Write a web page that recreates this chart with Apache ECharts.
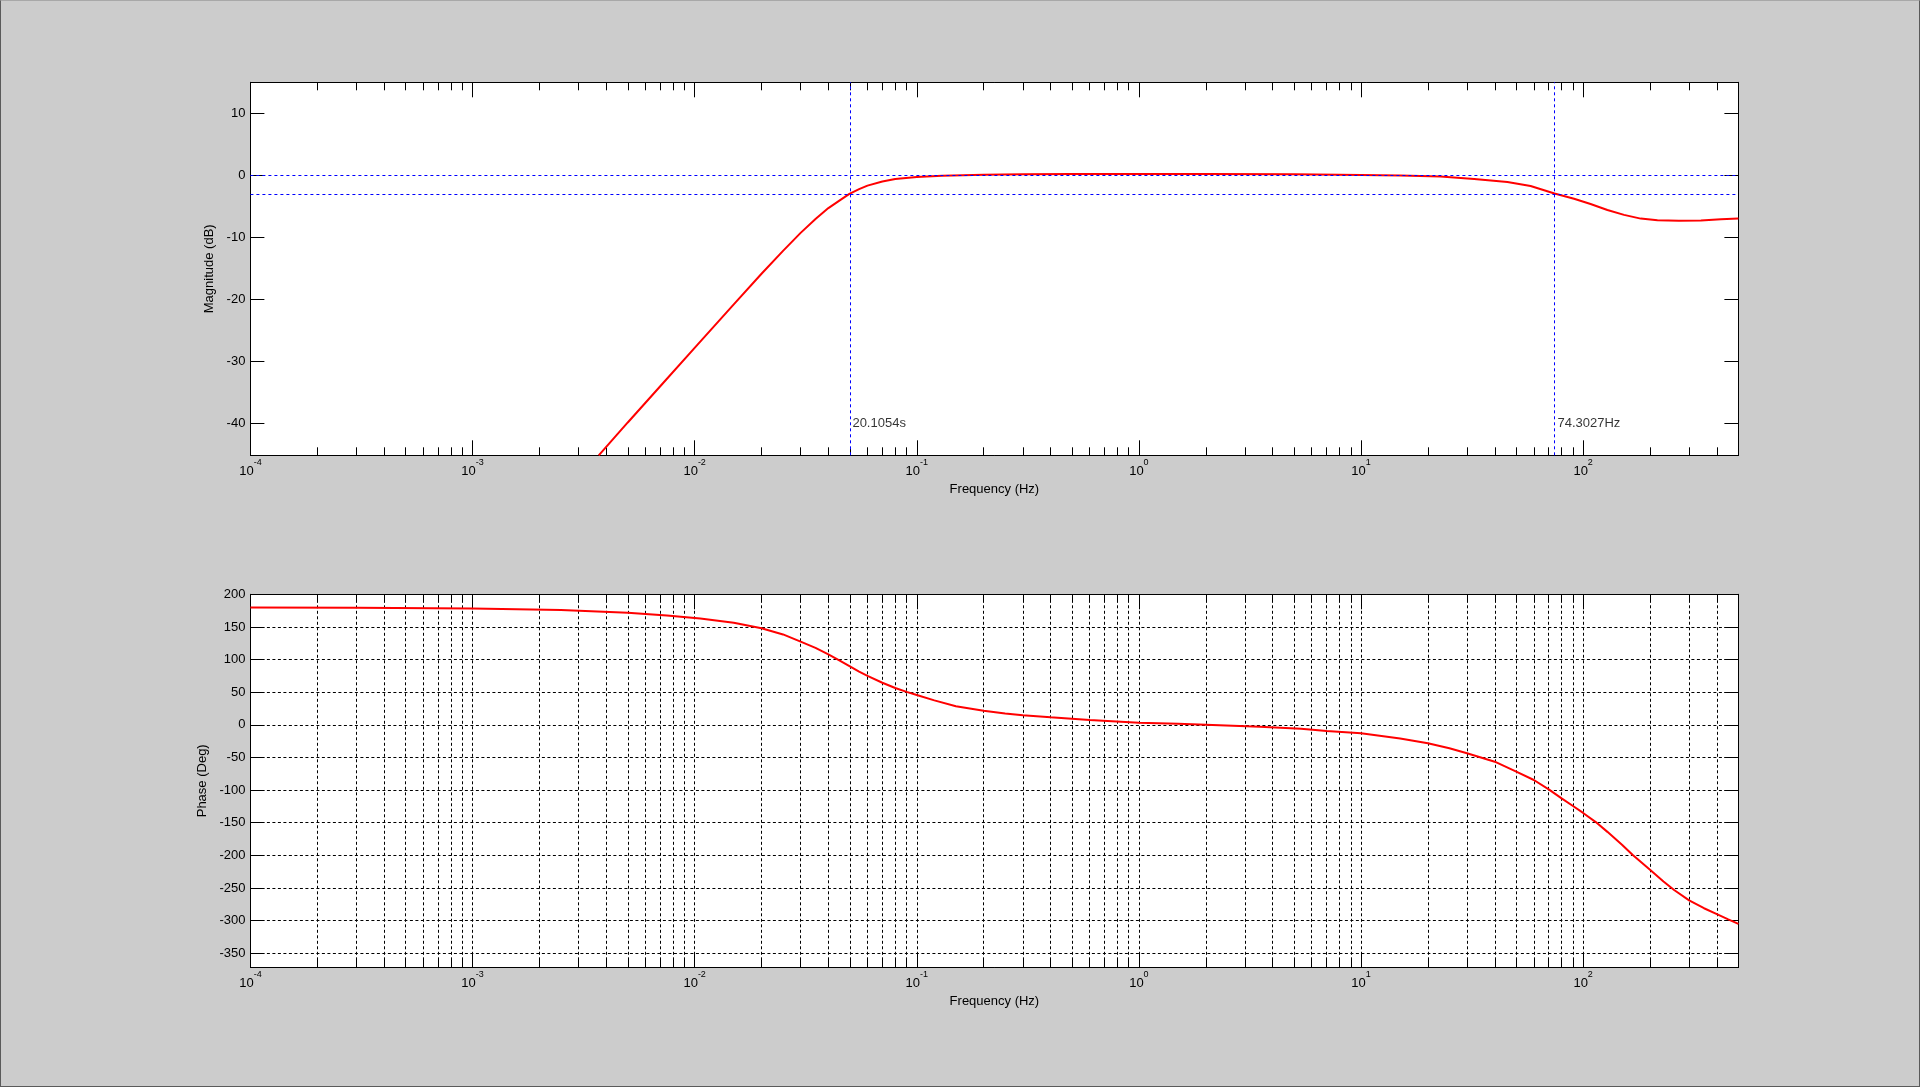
<!DOCTYPE html>
<html>
<head>
<meta charset="utf-8">
<title>Bode plot</title>
<script src="https://cdn.jsdelivr.net/npm/echarts@6/dist/echarts.min.js"></script>
<style>
    html, body {
        margin: 0;
        padding: 0;
        width: 100%;
        height: 100%;
        overflow: hidden;
        background: #cccccc;
    }
    #main {
        width: 100%;
        height: 100%;
        box-sizing: border-box;
        border: 1px solid #5a5a5a;
        border-top-color: #a8a8a8;
    }
</style>
</head>
<body>
<div id="main"></div>
<script type="text/javascript">
    // frequency range of both plots (Hz)
    var freqMin = 1e-4;
    var freqMax = 500;

    // magnitude curve
    var magFreq = [0.0037, 0.005, 0.007, 0.01, 0.015, 0.02, 0.025, 0.03, 0.035, 0.04, 0.045, 0.04974,
        0.055, 0.06, 0.07, 0.08, 0.1, 0.13, 0.2, 0.3, 0.5, 1, 2, 5, 10, 15, 22.8, 32.3, 45.6, 58,
        74.3027, 91, 108, 128.6, 152.8, 181.6, 216, 270, 339, 417, 500];
    var magDb = [-45.2, -39.9, -34.05, -27.85, -20.85, -15.9, -12.2, -9.3, -7.05, -5.3, -4.05, -3.0,
        -2.25, -1.68, -1.0, -0.6, -0.28, -0.09, 0.08, 0.15, 0.2, 0.2, 0.2, 0.15, 0.05, -0.05, -0.22, -0.6, -1.08, -1.73,
        -2.95, -3.8, -4.65, -5.6, -6.4, -7.0, -7.28, -7.35, -7.3, -7.1, -7.0];

    // phase curve
    var phaseFreq = [1e-4, 3e-4, 1e-3, 0.0025, 0.005, 0.0075, 0.0106, 0.015, 0.02, 0.025, 0.03, 0.035, 0.04, 0.045, 0.05, 0.055,
        0.06, 0.07, 0.08, 0.09, 0.1, 0.12, 0.15, 0.2, 0.25, 0.3, 0.4, 0.6, 1, 1.5, 2, 3.5, 5.37, 7, 10, 15, 20, 25, 30, 40, 50, 60, 70, 80, 90, 100,
        114, 128.6, 150, 166.8, 200, 230, 256.8, 300, 350, 400, 450, 500];
    var phaseDeg = [179.8, 179.5, 178.4, 175.9, 171.8, 167.5, 163.0, 156.5, 148, 138.5, 127.4, 118, 108, 98.5, 89.5, 81.5,
        75, 64.5, 56.5, 50.5, 45.7, 37.5, 28.5, 21.7, 17.5, 14.6, 11.5, 7.5, 3.3, 1.6, 0.2, -2.8, -5.9, -9.4, -13, -21, -28.3, -36, -43.6, -56.5, -71.8, -84.5, -98.8, -112.6, -124.4, -135,
        -149, -164, -184, -199, -222, -240, -253, -269, -281, -290, -298, -305];

    // axis ticks
    var magTicks = [-40, -30, -20, -10, 0, 10];
    var phaseTicks = [-350, -300, -250, -200, -150, -100, -50, 0, 50, 100, 150, 200];
    var decadeTicks = [1e-4, 1e-3, 1e-2, 1e-1, 1, 10, 100];
    var minorTicks = [];
    for (var d = -4; d <= 2; d++) {
        for (var k = 2; k <= 9; k++) {
            var v = k * Math.pow(10, d);
            if (v <= freqMax) minorTicks.push(v);
        }
    }

    // reference lines and their captions
    var refLevels = [0, -3];
    var cutoffFreqs = [0.04974, 74.3027];
    var cutoffLabels = ['20.1054s', '74.3027Hz'];
    var labelLevel = -40;

    var FONT = '"Liberation Sans", Arial, sans-serif';
    var gridDash = { color: '#000', width: 1, type: [3, 2.5] };

    function xAxisFor(grid, pos, ticks, tickLen, extra) {
        var ax = {
            type: 'log',
            logBase: 10,
            gridIndex: grid,
            position: pos,
            min: freqMin,
            max: freqMax,
            axisLine: { show: true, onZero: false, lineStyle: { color: '#000', width: 1 } },
            axisTick: { show: true, inside: true, length: tickLen, customValues: ticks, lineStyle: { color: '#000', width: 1 } },
            axisLabel: { show: false },
            splitLine: { show: false }
        };
        return Object.assign(ax, extra || {});
    }

    function yAxisFor(grid, pos, min, max, ticks, extra) {
        var ax = {
            type: 'value',
            gridIndex: grid,
            position: pos,
            min: min,
            max: max,
            axisLine: { show: true, onZero: false, lineStyle: { color: '#000', width: 1 } },
            axisTick: { show: true, inside: true, length: 14, customValues: ticks, lineStyle: { color: '#000', width: 1 } },
            axisLabel: { show: false },
            splitLine: { show: false }
        };
        return Object.assign(ax, extra || {});
    }

    function decadeLabels() {
        return {
            show: true,
            customValues: decadeTicks,
            margin: 3,
            color: '#000',
            fontFamily: FONT,
            formatter: function (val) {
                return '{b|10}{e|' + Math.round(Math.log10(val)) + '}';
            },
            rich: {
                b: { fontSize: 13, fontFamily: FONT, color: '#000', lineHeight: 20, verticalAlign: 'bottom' },
                e: { fontSize: 9, fontFamily: FONT, color: '#000', lineHeight: 12, verticalAlign: 'top' }
            }
        };
    }

    function valueLabels(ticks) {
        return { show: true, customValues: ticks, margin: 5, color: '#000', fontSize: 13, fontFamily: FONT };
    }

    var freqName = {
        name: 'Frequency (Hz)',
        nameLocation: 'middle',
        nameGap: 28,
        nameTextStyle: { color: '#000', fontSize: 13, fontFamily: FONT }
    };

    var chart = echarts.init(document.getElementById('main'));

    var option = {
        animation: false,
        backgroundColor: '#cccccc',
        grid: [
            { left: 249.4, top: 81.3, width: 1488, height: 373, show: true, backgroundColor: '#fff', borderWidth: 0 },
            { left: 249.4, top: 593.3, width: 1488, height: 373, show: true, backgroundColor: '#fff', borderWidth: 0 }
        ],
        xAxis: [
            xAxisFor(0, 'bottom', decadeTicks, 15, Object.assign({ axisLabel: decadeLabels() }, freqName)),
            xAxisFor(0, 'bottom', minorTicks, 8),
            xAxisFor(0, 'top', decadeTicks, 15),
            xAxisFor(0, 'top', minorTicks, 8),
            xAxisFor(1, 'bottom', decadeTicks, 15, Object.assign({ axisLabel: decadeLabels(), splitLine: { show: true, lineStyle: gridDash } }, freqName)),
            xAxisFor(1, 'bottom', minorTicks, 8, { splitLine: { show: true, lineStyle: gridDash } }),
            xAxisFor(1, 'top', decadeTicks, 15),
            xAxisFor(1, 'top', minorTicks, 8)
        ],
        yAxis: [
            yAxisFor(0, 'left', -45.2, 15, magTicks, {
                axisLabel: valueLabels(magTicks),
                name: 'Magnitude (dB)',
                nameLocation: 'middle',
                nameRotate: 90,
                nameGap: 27,
                nameTextStyle: { color: '#000', fontSize: 13, fontFamily: FONT }
            }),
            yAxisFor(0, 'right', -45.2, 15, magTicks),
            yAxisFor(1, 'left', -371.5, 200, phaseTicks, {
                axisLabel: valueLabels(phaseTicks),
                splitLine: { show: true, lineStyle: gridDash },
                name: 'Phase (Deg)',
                nameLocation: 'middle',
                nameRotate: 90,
                nameGap: 33,
                nameTextStyle: { color: '#000', fontSize: 13, fontFamily: FONT }
            }),
            yAxisFor(1, 'right', -371.5, 200, phaseTicks)
        ],
        series: [
            {
                name: 'Magnitude',
                type: 'line',
                xAxisIndex: 0,
                yAxisIndex: 0,
                data: magFreq.map(function (f, i) { return [f, magDb[i]]; }),
                showSymbol: false,
                smooth: false,
                lineStyle: { color: '#ff0000', width: 2 },
                itemStyle: { color: '#ff0000' },
                z: 3,
                markLine: {
                    silent: true,
                    symbol: ['none', 'none'],
                    label: { show: false },
                    lineStyle: { color: '#0000ff', width: 1, type: [3, 3] },
                    data: refLevels.map(function (y) { return { yAxis: y }; })
                        .concat(cutoffFreqs.map(function (x) { return { xAxis: x }; }))
                }
            },
            {
                name: 'Cutoffs',
                type: 'scatter',
                xAxisIndex: 0,
                yAxisIndex: 0,
                silent: true,
                symbolSize: 0,
                data: cutoffFreqs.map(function (f) { return [f, labelLevel]; }),
                label: {
                    show: true,
                    position: 'right',
                    distance: 3,
                    color: '#000',
                    fontSize: 13,
                    fontFamily: FONT,
                    formatter: function (p) { return cutoffLabels[p.dataIndex]; }
                }
            },
            {
                name: 'Phase',
                type: 'line',
                xAxisIndex: 4,
                yAxisIndex: 2,
                data: phaseFreq.map(function (f, i) { return [f, phaseDeg[i]]; }),
                showSymbol: false,
                smooth: false,
                lineStyle: { color: '#ff0000', width: 2 },
                itemStyle: { color: '#ff0000' },
                z: 3
            }
        ]
    };

    chart.setOption(option);
</script>
</body>
</html>
